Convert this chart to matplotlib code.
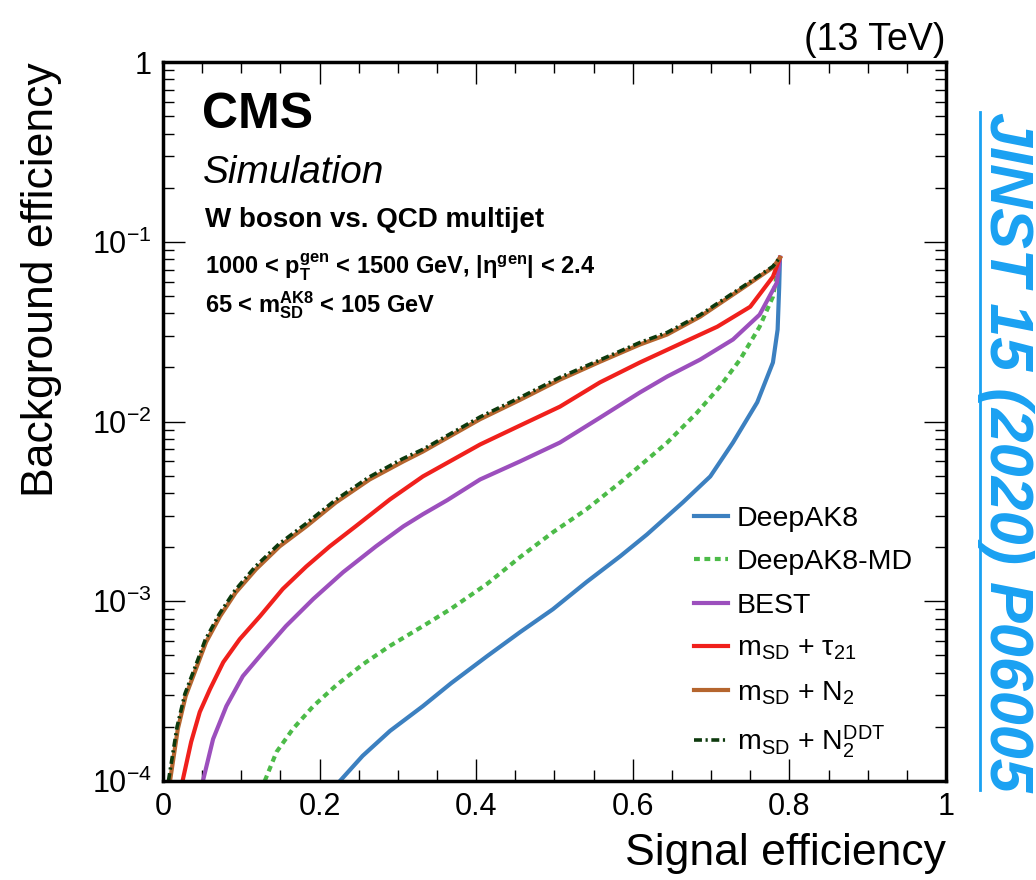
import matplotlib
matplotlib.use('Agg')
import matplotlib.pyplot as plt
from matplotlib.lines import Line2D
from matplotlib.ticker import FixedLocator, FuncFormatter, LogLocator, NullFormatter
import numpy as np

# ROC curves (signal eff, background eff)
deepak8_x = [0.226, 0.255, 0.290, 0.332, 0.368, 0.414, 0.456, 0.498, 0.541, 0.584,
             0.618, 0.664, 0.699, 0.728, 0.759, 0.779, 0.785, 0.787, 0.788]
deepak8_y = [1.0e-4, 1.38e-4, 1.9e-4, 2.61e-4, 3.5e-4, 4.95e-4, 6.73e-4, 9.03e-4, 1.28e-3, 1.78e-3,
             2.35e-3, 3.55e-3, 4.95e-3, 7.64e-3, 1.28e-2, 2.13e-2, 3.25e-2, 5.6e-2, 8.15e-2]

deepak8md_x = [0.130, 0.145, 0.166, 0.192, 0.221, 0.255, 0.290, 0.332, 0.367, 0.414, 0.456,
               0.498, 0.541, 0.584, 0.644, 0.682, 0.711, 0.737, 0.762, 0.779, 0.788]
deepak8md_y = [1.0e-4, 1.45e-4, 1.95e-4, 2.61e-4, 3.4e-4, 4.45e-4, 5.65e-4, 7.27e-4, 9.03e-4, 1.25e-3, 1.76e-3,
               2.42e-3, 3.25e-3, 4.58e-3, 7.64e-3, 1.12e-2, 1.56e-2, 2.21e-2, 3.37e-2, 4.95e-2, 8.15e-2]

best_x = [0.051, 0.064, 0.081, 0.102, 0.128, 0.157, 0.192, 0.230, 0.272, 0.307, 0.332, 0.363,
          0.405, 0.456, 0.507, 0.558, 0.609, 0.644, 0.686, 0.728, 0.762, 0.784, 0.788]
best_y = [1.0e-4, 1.71e-4, 2.61e-4, 3.83e-4, 5.21e-4, 7.27e-4, 1.03e-3, 1.45e-3, 2.02e-3, 2.61e-3, 3.05e-3, 3.65e-3,
          4.76e-3, 6.0e-3, 7.64e-3, 1.05e-2, 1.45e-2, 1.78e-2, 2.21e-2, 2.86e-2, 3.93e-2, 5.92e-2, 8.15e-2]

tau21_x = [0.025, 0.036, 0.047, 0.060, 0.077, 0.098, 0.124, 0.153, 0.183, 0.213, 0.246, 0.290,
           0.332, 0.405, 0.456, 0.507, 0.558, 0.609, 0.664, 0.708, 0.750, 0.779, 0.788]
tau21_y = [1.0e-4, 1.65e-4, 2.42e-4, 3.24e-4, 4.58e-4, 6.15e-4, 8.26e-4, 1.17e-3, 1.56e-3, 2.02e-3, 2.61e-3, 3.69e-3,
           4.95e-3, 7.45e-3, 9.5e-3, 1.21e-2, 1.65e-2, 2.13e-2, 2.75e-2, 3.37e-2, 4.35e-2, 6.39e-2, 8.15e-2]

n2_x = [0.009, 0.019, 0.029, 0.042, 0.055, 0.073, 0.093, 0.119, 0.149, 0.183, 0.221, 0.264,
        0.307, 0.332, 0.405, 0.456, 0.507, 0.558, 0.609, 0.644, 0.686, 0.741, 0.779, 0.788]
n2_y = [1.0e-4, 1.95e-4, 2.97e-4, 4.19e-4, 5.92e-4, 8.26e-4, 1.12e-3, 1.51e-3, 2.02e-3, 2.61e-3, 3.55e-3, 4.76e-3,
        6.0e-3, 6.81e-3, 1.03e-2, 1.32e-2, 1.71e-2, 2.15e-2, 2.68e-2, 3.05e-2, 3.83e-2, 5.55e-2, 7.2e-2, 8.15e-2]

n2ddt_x = [0.007, 0.018, 0.028, 0.041, 0.054, 0.072, 0.092, 0.118, 0.148, 0.182, 0.220, 0.263,
           0.306, 0.332, 0.405, 0.456, 0.507, 0.558, 0.609, 0.644, 0.686, 0.741, 0.779, 0.788]
n2ddt_y = [1.0e-4, 2.0e-4, 3.05e-4, 4.3e-4, 6.1e-4, 8.5e-4, 1.15e-3, 1.56e-3, 2.08e-3, 2.69e-3, 3.65e-3, 4.9e-3,
           6.2e-3, 7.0e-3, 1.06e-2, 1.36e-2, 1.76e-2, 2.2e-2, 2.75e-2, 3.13e-2, 3.92e-2, 5.65e-2, 7.3e-2, 8.2e-2]

labels = ['DeepAK8', 'DeepAK8-MD', 'BEST',
          r'$m_{SD}$ + $\tau_{21}$', r'$m_{SD}$ + $N_{2}$', r'$m_{SD}$ + $N_{2}^{DDT}$']

x_ticks = [0, 0.2, 0.4, 0.6, 0.8, 1]
y_ticks = [1e-4, 1e-3, 1e-2, 1e-1, 1]


def main():
    plt.rcParams['font.family'] = ['Liberation Sans', 'DejaVu Sans']
    plt.rcParams['mathtext.fontset'] = 'custom'
    plt.rcParams['mathtext.rm'] = 'Liberation Sans'
    plt.rcParams['mathtext.it'] = 'Liberation Sans:italic'
    plt.rcParams['mathtext.bf'] = 'Liberation Sans:bold'
    plt.rcParams['mathtext.default'] = 'regular'
    plt.rcParams['lines.solid_joinstyle'] = 'round'

    fig = plt.figure(figsize=(10.36, 8.8), dpi=100)
    ax = fig.add_axes([0.1573, 0.1125, 0.7558, 0.8170])

    # curves, same order as the legend
    ax.plot(deepak8_x, deepak8_y, color='#3c80c0', lw=3.0, label=labels[0])
    ax.plot(deepak8md_x, deepak8md_y, color='#4cbb48', lw=3.0, ls=(0, (1.4, 1.1)), label=labels[1])
    ax.plot(best_x, best_y, color='#9c4fbd', lw=3.0, label=labels[2])
    ax.plot(tau21_x, tau21_y, color='#f0201c', lw=3.0, label=labels[3])
    ax.plot(n2_x, n2_y, color='#b5652e', lw=3.0, label=labels[4])
    ax.plot(n2ddt_x, n2ddt_y, color='#0d3a0d', lw=2.6, ls=(0, (2.2, 1.0, 0.6, 1.0)), label=labels[5])

    ax.set_xlim(0, 1)
    ax.set_yscale('log')
    ax.set_ylim(1e-4, 1)

    # ROOT-like ticks: inward on all four sides
    ax.xaxis.set_major_locator(FixedLocator(x_ticks))
    ax.xaxis.set_minor_locator(FixedLocator(np.arange(0, 1.001, 0.05)))
    ax.xaxis.set_major_formatter(FuncFormatter(lambda v, p: '%g' % v))
    ax.yaxis.set_major_locator(FixedLocator(y_ticks))
    ax.yaxis.set_minor_locator(LogLocator(base=10, subs=np.arange(2, 10), numticks=20))
    ax.yaxis.set_major_formatter(FuncFormatter(
        lambda v, p: '1' if abs(v - 1) < 1e-9 else r'$10^{%d}$' % round(np.log10(v))))
    ax.yaxis.set_minor_formatter(NullFormatter())
    ax.tick_params(which='both', direction='in', top=True, right=True, width=1.0, color='black')
    ax.tick_params(which='major', length=16, labelsize=22, pad=8)
    ax.tick_params(which='minor', length=8)
    for sp in ax.spines.values():
        sp.set_linewidth(2.5)

    ax.set_xlabel('Signal efficiency', fontsize=32, loc='right')
    ax.xaxis.set_label_coords(1.0, -0.072)
    ax.set_ylabel('Background efficiency', fontsize=32, loc='top')
    ax.yaxis.set_label_coords(-0.129, 1.0)

    # CMS header texts
    ax.text(0.050, 0.908, 'CMS', transform=ax.transAxes, fontsize=36, fontweight='bold', va='baseline')
    ax.text(0.051, 0.832, 'Simulation', transform=ax.transAxes, fontsize=28, style='italic', va='baseline')
    ax.text(0.054, 0.771, 'W boson vs. QCD multijet', transform=ax.transAxes, fontsize=20,
            fontweight='bold', va='baseline')
    ax.text(0.054, 0.704, r'1000 < $p_{T}^{gen}$ < 1500 GeV, $|\eta^{gen}|$ < 2.4', transform=ax.transAxes,
            fontsize=17, fontweight='bold', va='baseline')
    ax.text(0.054, 0.652, r'65 < $m_{SD}^{AK8}$ < 105 GeV', transform=ax.transAxes,
            fontsize=17, fontweight='bold', va='baseline')
    ax.text(1.0, 1.017, '(13 TeV)', transform=ax.transAxes, fontsize=27, ha='right', va='baseline')

    ax.legend(loc='upper left', bbox_to_anchor=(0.678, 0.382), frameon=False, fontsize=20.5,
              handlelength=1.2, handletextpad=0.3, labelspacing=0.6, borderpad=0, borderaxespad=0)

    # journal reference on the right margin, underlined
    jcol = '#1aa1f2'
    fig.text(1005 / 1036, 1 - 112 / 880, 'JINST 15 (2020) P06005', rotation=270, color=jcol,
             fontsize=44, fontweight='bold', style='italic', ha='center', va='top')
    fig.add_artist(Line2D([980 / 1036, 980 / 1036], [1 - 112 / 880, 1 - 790 / 880],
                          transform=fig.transFigure, color=jcol, lw=2))

    fig.savefig('out.png', dpi=100)


if __name__ == "__main__":
    main()
